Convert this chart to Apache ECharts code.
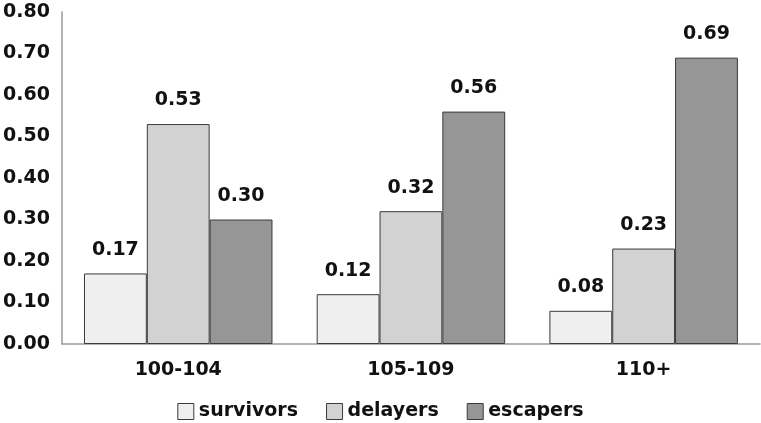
<!DOCTYPE html>
<html>
<head>
<meta charset="utf-8">
<script src="https://cdn.jsdelivr.net/npm/echarts@6/dist/echarts.min.js"></script>
<style>html,body{margin:0;padding:0;background:#fff}#c{width:761px;height:423px}</style>
</head>
<body>
<div id="c"></div>
<script>
var categories = ['100-104', '105-109', '110+'];
var survivors = [0.17, 0.12, 0.08];
var delayers = [0.53, 0.32, 0.23];
var escapers = [0.30, 0.56, 0.69];
var seriesNames = ['survivors', 'delayers', 'escapers'];
var yTicks = [0, 0.8, 0.1];

var FONT = 'DejaVu Sans';
var colors = ['#efefef', '#d2d2d2', '#969696'];
function mk(name, data, i) {
  return {
    name: name, type: 'bar', data: data,
    barGap: '0%', barCategoryGap: '19%',
    itemStyle: { color: colors[i], borderColor: '#3a3a3a', borderWidth: 1 },
    label: {
      show: true, position: 'top', distance: 14,
      fontFamily: FONT, fontWeight: 'bold', fontSize: 19, color: '#111',
      formatter: function (p) { return p.value.toFixed(2); }
    }
  };
}
var chart = echarts.init(document.getElementById('c'));
chart.setOption({
  animation: false,
  grid: { left: 60, right: 1, top: 12, bottom: 79 },
  legend: {
    data: seriesNames, left: 'center', top: 397,
    itemWidth: 16, itemHeight: 16, itemGap: 28,
    icon: 'rect',
    itemStyle: { borderColor: '#3a3a3a', borderWidth: 1 },
    textStyle: { fontFamily: FONT, fontWeight: 'bold', fontSize: 19, color: '#111' }
  },
  xAxis: {
    type: 'category', data: categories,
    axisLine: { lineStyle: { color: '#9a9a9a', width: 1.5 } },
    axisTick: { show: false },
    axisLabel: { margin: 17, fontFamily: FONT, fontWeight: 'bold', fontSize: 19, color: '#111' }
  },
  yAxis: {
    type: 'value', min: yTicks[0], max: yTicks[1], interval: yTicks[2],
    axisLine: { show: true, lineStyle: { color: '#9a9a9a', width: 1.5 } },
    axisTick: { show: false },
    splitLine: { show: false },
    axisLabel: {
      margin: 12, fontFamily: FONT, fontWeight: 'bold', fontSize: 19, color: '#111',
      formatter: function (v) { return v.toFixed(2); }
    }
  },
  series: [mk(seriesNames[0], survivors, 0), mk(seriesNames[1], delayers, 1), mk(seriesNames[2], escapers, 2)]
});
</script>
</body>
</html>
